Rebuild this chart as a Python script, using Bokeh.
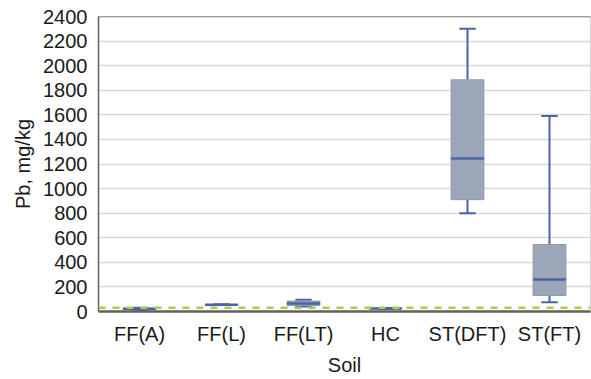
from bokeh.plotting import figure
from bokeh.models import ColumnDataSource, Range1d, FactorRange, Span, FixedTicker
from bokeh.transform import dodge
from bokeh.embed import file_html
from bokeh.resources import INLINE

soils = ["FF(A)", "FF(L)", "FF(LT)", "HC", "ST(DFT)", "ST(FT)"]
pb_min = [15, 52, 40, 20, 800, 75]
pb_q1 = [18, 54, 48, 22, 910, 130]
pb_median = [22, 55, 65, 24, 1245, 260]
pb_q3 = [27, 57, 85, 26, 1885, 545]
pb_max = [30, 58, 95, 28, 2300, 1590]
threshold = 30
y_ticks = list(range(0, 2401, 200))

src = ColumnDataSource(dict(soil=soils, lo=pb_min, q1=pb_q1, med=pb_median, q3=pb_q3, hi=pb_max))

FONT = "Liberation Sans"
TXT = "#1a1a1a"
WHISK = "#4a64a4"

p = figure(width=591, height=379, x_range=FactorRange(*soils), y_range=Range1d(0, 2400),
           output_backend="svg", toolbar_location=None,
           min_border_left=98, min_border_right=1, min_border_top=16, min_border_bottom=68)

p.outline_line_color = "#d4d4d4"
p.outline_line_width = 1

# whiskers
p.segment(x0="soil", y0="q3", x1="soil", y1="hi", source=src, line_color=WHISK, line_width=2)
p.segment(x0="soil", y0="lo", x1="soil", y1="q1", source=src, line_color=WHISK, line_width=2)
p.segment(x0=dodge("soil", -0.1, range=p.x_range), y0="hi", x1=dodge("soil", 0.1, range=p.x_range), y1="hi",
          source=src, line_color=WHISK, line_width=2)
p.segment(x0=dodge("soil", -0.1, range=p.x_range), y0="lo", x1=dodge("soil", 0.1, range=p.x_range), y1="lo",
          source=src, line_color=WHISK, line_width=2)
# boxes
p.vbar(x="soil", bottom="q1", top="q3", width=0.4, source=src,
       fill_color="#9ba7b9", line_color="#8c98ab", line_width=1)
# medians
p.segment(x0=dodge("soil", -0.2, range=p.x_range), y0="med", x1=dodge("soil", 0.2, range=p.x_range), y1="med",
          source=src, line_color=WHISK, line_width=2.5)

p.add_layout(Span(location=threshold, dimension="width", line_color="#a6cf45",
                  line_dash="7 7", line_width=2.5))
p.add_layout(Span(location=2400, dimension="width", line_color="#606060", line_width=1.5))

p.xgrid.grid_line_color = None
p.ygrid.grid_line_color = "#d9d9d9"
p.ygrid.grid_line_width = 1.5
p.yaxis.ticker = FixedTicker(ticks=y_ticks)

for ax in (p.xaxis, p.yaxis):
    ax.major_tick_line_color = None
    ax.minor_tick_line_color = None
    ax.major_label_text_font = FONT
    ax.major_label_text_font_size = "20px"
    ax.major_label_text_color = TXT
    ax.axis_label_text_font = FONT
    ax.axis_label_text_font_size = "20px"
    ax.axis_label_text_font_style = "normal"
    ax.axis_label_text_color = TXT

p.yaxis.axis_line_color = "#606060"
p.yaxis.axis_line_width = 1.5
p.xaxis.axis_line_color = "#606060"
p.xaxis.axis_line_width = 2.5
p.yaxis.axis_label = "Pb, mg/kg"
p.xaxis.axis_label = "Soil"
p.yaxis.major_label_standoff = 5
p.yaxis.axis_label_standoff = 6
p.xaxis.major_label_standoff = 5
p.xaxis.axis_label_standoff = 6

open("out.html", "w").write(file_html(p, INLINE))
